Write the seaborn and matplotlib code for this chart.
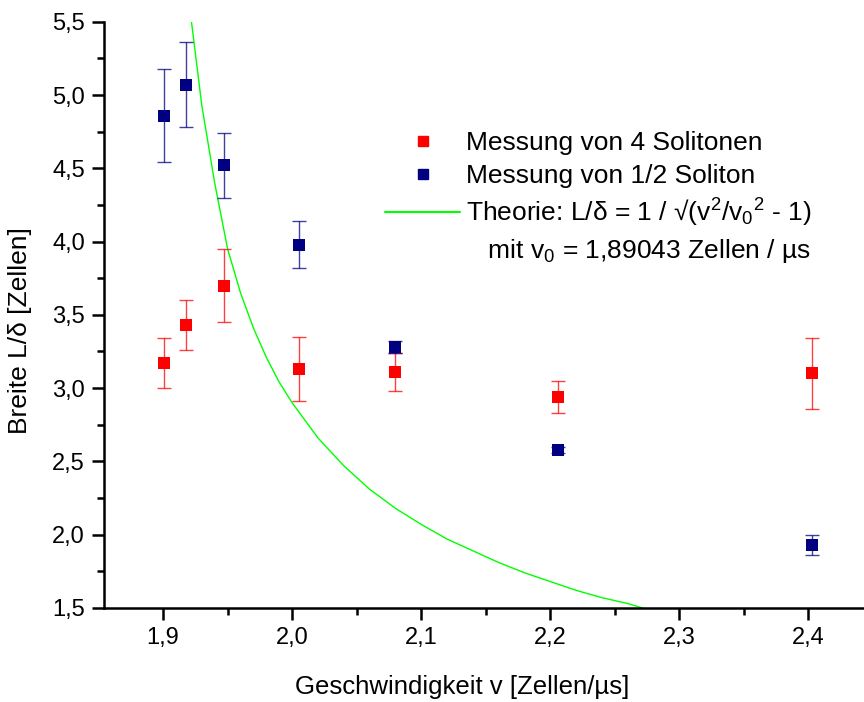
import numpy as np
import pandas as pd
import matplotlib
matplotlib.use("Agg")
import matplotlib.pyplot as plt
from matplotlib.ticker import MultipleLocator, FuncFormatter
from matplotlib.lines import Line2D
import seaborn as sns

# Messung von 4 Solitonen
v_rot = [1.901, 1.918, 1.947, 2.005, 2.080, 2.206, 2.403]
L_rot = [3.17, 3.43, 3.70, 3.13, 3.11, 2.94, 3.10]
err_rot = [0.17, 0.17, 0.25, 0.22, 0.13, 0.11, 0.245]

# Messung von 1/2 Soliton
v_blau = [1.901, 1.918, 1.947, 2.005, 2.080, 2.206, 2.403]
L_blau = [4.86, 5.07, 4.52, 3.98, 3.28, 2.575, 1.93]
err_blau = [0.32, 0.29, 0.22, 0.16, 0.04, 0.02, 0.07]

# Theoriekurve
v_theo = [1.922, 1.93, 1.94, 1.95, 1.96, 1.97, 1.98, 1.99, 2.00, 2.02, 2.04,
          2.06, 2.08, 2.10, 2.12, 2.14, 2.16, 2.18, 2.20, 2.22, 2.24, 2.26, 2.275]
L_theo = [5.50, 4.93, 4.40, 3.95, 3.65, 3.41, 3.21, 3.04, 2.90, 2.66, 2.47,
          2.31, 2.18, 2.07, 1.97, 1.89, 1.81, 1.74, 1.68, 1.62, 1.57, 1.53, 1.49]

rot = "#ff0000"
blau = "#000080"
gruen = "#00ff00"

df_rot = pd.DataFrame({"v": v_rot, "L": L_rot})
df_blau = pd.DataFrame({"v": v_blau, "L": L_blau})
df_theo = pd.DataFrame({"v": v_theo, "L": L_theo})

sns.set_style("ticks")
plt.rcParams["font.family"] = ["Liberation Sans", "DejaVu Sans"]
plt.rcParams["mathtext.fontset"] = "custom"
plt.rcParams["mathtext.rm"] = "Liberation Sans"
plt.rcParams["mathtext.it"] = "Liberation Sans"
for k in ["text.color", "axes.labelcolor", "xtick.color", "ytick.color", "axes.edgecolor"]:
    plt.rcParams[k] = "black"

fig = plt.figure(figsize=(8.64, 7.02), dpi=100)
ax = fig.add_axes([0.120, 0.134, 0.88, 0.835])

sns.lineplot(data=df_theo, x="v", y="L", ax=ax, color=gruen, lw=1.0, sort=False)

ax.errorbar(v_rot, L_rot, yerr=err_rot, fmt="none", ecolor=rot, elinewidth=1.0,
            capsize=4.8, capthick=1.0, alpha=0.75)
ax.errorbar(v_blau, L_blau, yerr=err_blau, fmt="none", ecolor=blau, elinewidth=1.0,
            capsize=4.8, capthick=1.0, alpha=0.75)
sns.scatterplot(data=df_rot, x="v", y="L", ax=ax, marker="s", s=70, color=rot,
                edgecolor=rot, linewidth=0, zorder=3)
sns.scatterplot(data=df_blau, x="v", y="L", ax=ax, marker="s", s=70, color=blau,
                edgecolor=blau, linewidth=0, zorder=3)

ax.set_xlim(1.854, 2.443)
ax.set_ylim(1.5, 5.5)
ax.xaxis.set_major_locator(MultipleLocator(0.1))
ax.xaxis.set_minor_locator(MultipleLocator(0.05))
ax.yaxis.set_major_locator(MultipleLocator(0.5))
ax.yaxis.set_minor_locator(MultipleLocator(0.25))
komma = FuncFormatter(lambda x, p: f"{x:.1f}".replace(".", ","))
ax.xaxis.set_major_formatter(komma)
ax.yaxis.set_major_formatter(komma)

sns.despine(ax=ax)
for s in ["left", "bottom"]:
    ax.spines[s].set_linewidth(1.8)
ax.tick_params(which="major", length=8.5, width=1.8, labelsize=17, pad=5)
ax.tick_params(which="minor", length=4.7, width=1.8)

ax.set_xlabel("Geschwindigkeit v [Zellen/µs]", fontsize=18.5)
ax.set_ylabel("Breite L/δ [Zellen]", fontsize=19)
ax.xaxis.set_label_coords(0.472, -0.114)
ax.yaxis.set_label_coords(-0.094, 0.474)

handles = [
    Line2D([], [], ls="none", marker="s", color=rot, markersize=7),
    Line2D([], [], ls="none", marker="s", color=blau, markersize=7),
    Line2D([], [], color=gruen, lw=1.5),
    Line2D([], [], ls="none"),
]
labels = [
    "Messung von 4 Solitonen",
    "Messung von 1/2 Soliton",
    "Theorie: L/δ = 1 / √(v$^2$/v$_0$$^2$ - 1)",
    "   mit v$_0$ = 1,89043 Zellen / µs",
]
ax.legend(handles, labels, loc="upper left", bbox_to_anchor=(0.353, 0.836),
          frameon=False, fontsize=19, handlelength=2.84, handletextpad=0.23,
          borderpad=0, labelspacing=0.33)

fig.savefig("out.png", dpi=100)
